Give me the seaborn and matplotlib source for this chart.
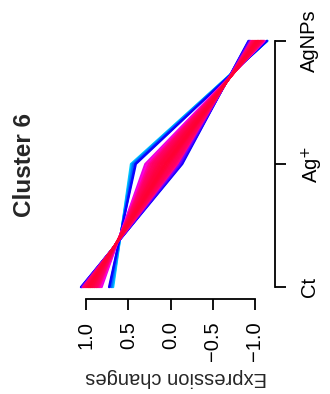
import numpy as np
import pandas as pd
import matplotlib
matplotlib.use("Agg")
import matplotlib.pyplot as plt
from matplotlib.colors import LinearSegmentedColormap
import seaborn as sns

# ---- data (standardised expression profiles, cluster 6) ----
conditions = ["Ct", "Ag$^{+}$", "AgNPs"]
ct = [0.679, 0.687, 0.696, 0.705, 0.722, 0.730,
      1.063, 1.059, 1.055, 1.046, 1.050,
      0.816, 0.830, 0.844, 1.037, 1.029,
      0.865, 0.878, 0.885, 0.898, 0.904, 0.917, 0.923,
      0.935, 0.946, 0.952, 0.963, 0.969, 0.979,
      0.990, 1.000, 1.010, 1.019, 0.851]
ag = [0.47, 0.46, 0.45, 0.44, 0.42, 0.41,
      -0.14, -0.13, -0.12, -0.10, -0.11,
      0.30, 0.28, 0.26, -0.08, -0.06,
      0.23, 0.21, 0.20, 0.18, 0.17, 0.15, 0.14,
      0.12, 0.10, 0.09, 0.07, 0.06, 0.04,
      0.02, 0.00, -0.02, -0.04, 0.25]
agnps = [-1.149, -1.147, -1.146, -1.145, -1.142, -1.140,
         -0.923, -0.929, -0.935, -0.946, -0.940,
         -1.116, -1.110, -1.104, -0.957, -0.969,
         -1.095, -1.088, -1.085, -1.078, -1.074, -1.067, -1.063,
         -1.055, -1.046, -1.042, -1.033, -1.029, -1.019,
         -1.010, -1.000, -0.990, -0.979, -1.101]
membership = [0.02, 0.05, 0.08, 0.12, 0.20, 0.24,
              0.22, 0.26, 0.30, 0.42, 0.36,
              0.58, 0.64, 0.72, 0.80, 0.86,
              0.84, 0.88, 0.89, 0.91, 0.92, 0.94, 0.95,
              0.97, 0.98, 0.98, 0.99, 1.00, 0.99,
              0.97, 0.94, 0.92, 0.90, 0.78]
value_ticks = [1.0, 0.5, 0.0, -0.5, -1.0]
value_labels = ["1.0", "0.5", "0.0", "\u22120.5", "\u22121.0"]

# ---- long table ----
rows = []
for i in range(len(ct)):
    for pos, v in zip([1, 2, 3], [ct[i], ag[i], agnps[i]]):
        rows.append({"gene": f"g{i}", "pos": pos, "value": v, "m": membership[i]})
df = pd.DataFrame(rows)

cmap = LinearSegmentedColormap.from_list(
    "memb", [(0.0, "#00E5FF"), (0.22, "#0000FF"), (0.42, "#7F00FF"),
             (0.62, "#FF00E0"), (0.85, "#FF0070"), (1.0, "#FF0033")])
order = [f"g{i}" for i in np.argsort(membership, kind="stable")]
palette = {f"g{i}": cmap(membership[i]) for i in range(len(ct))}

sns.set_theme(style="white")
plt.rcParams["font.family"] = ["Liberation Sans", "DejaVu Sans"]

W, H = 330, 394
fig = plt.figure(figsize=(W / 100, H / 100), dpi=100)
ax = fig.add_axes([73 / W, 1 - 297 / H, 202 / W, 266 / H])

sns.lineplot(data=df, x="value", y="pos", hue="gene", hue_order=order,
             palette=palette, orient="y", sort=False, estimator=None,
             legend=False, linewidth=1.5, ax=ax)

ax.set_xlim(1.156, -1.238)
ax.set_ylim(0.92, 3.08)

for s in ["top", "left"]:
    ax.spines[s].set_visible(False)
for s in ["bottom", "right"]:
    ax.spines[s].set_visible(True)
    ax.spines[s].set_color("black")
    ax.spines[s].set_linewidth(1.3)
ax.spines["bottom"].set_bounds(-1.0, 1.0)
ax.spines["bottom"].set_position(("outward", 1.5))
ax.spines["right"].set_bounds(1, 3)

ax.set_xticks(value_ticks)
ax.set_xticklabels(value_labels)
ax.yaxis.tick_right()
ax.set_yticks([1, 2, 3])
ax.set_yticklabels(conditions)
ax.tick_params(axis="x", bottom=True, length=8, width=1.3, color="black",
               labelsize=14.5, labelrotation=90, pad=8, labelcolor="black")
ax.tick_params(axis="y", right=True, left=False, length=8, width=1.3, color="black",
               labelsize=14.5, labelrotation=90, pad=10, labelcolor="black")
for lab in ax.get_yticklabels():
    lab.set_va("center")
ax.set_xlabel("")
ax.set_ylabel("")
ax.grid(False)

fig.text(176 / W, 1 - 377 / H, "Expression changes", rotation=180,
         ha="center", va="center", fontsize=14.5)
fig.text(25 / W, 1 - 165 / H, "Cluster 6", rotation=90, fontweight="bold",
         ha="center", va="center", fontsize=17.5)

fig.savefig("out.png", dpi=100, facecolor="white")
